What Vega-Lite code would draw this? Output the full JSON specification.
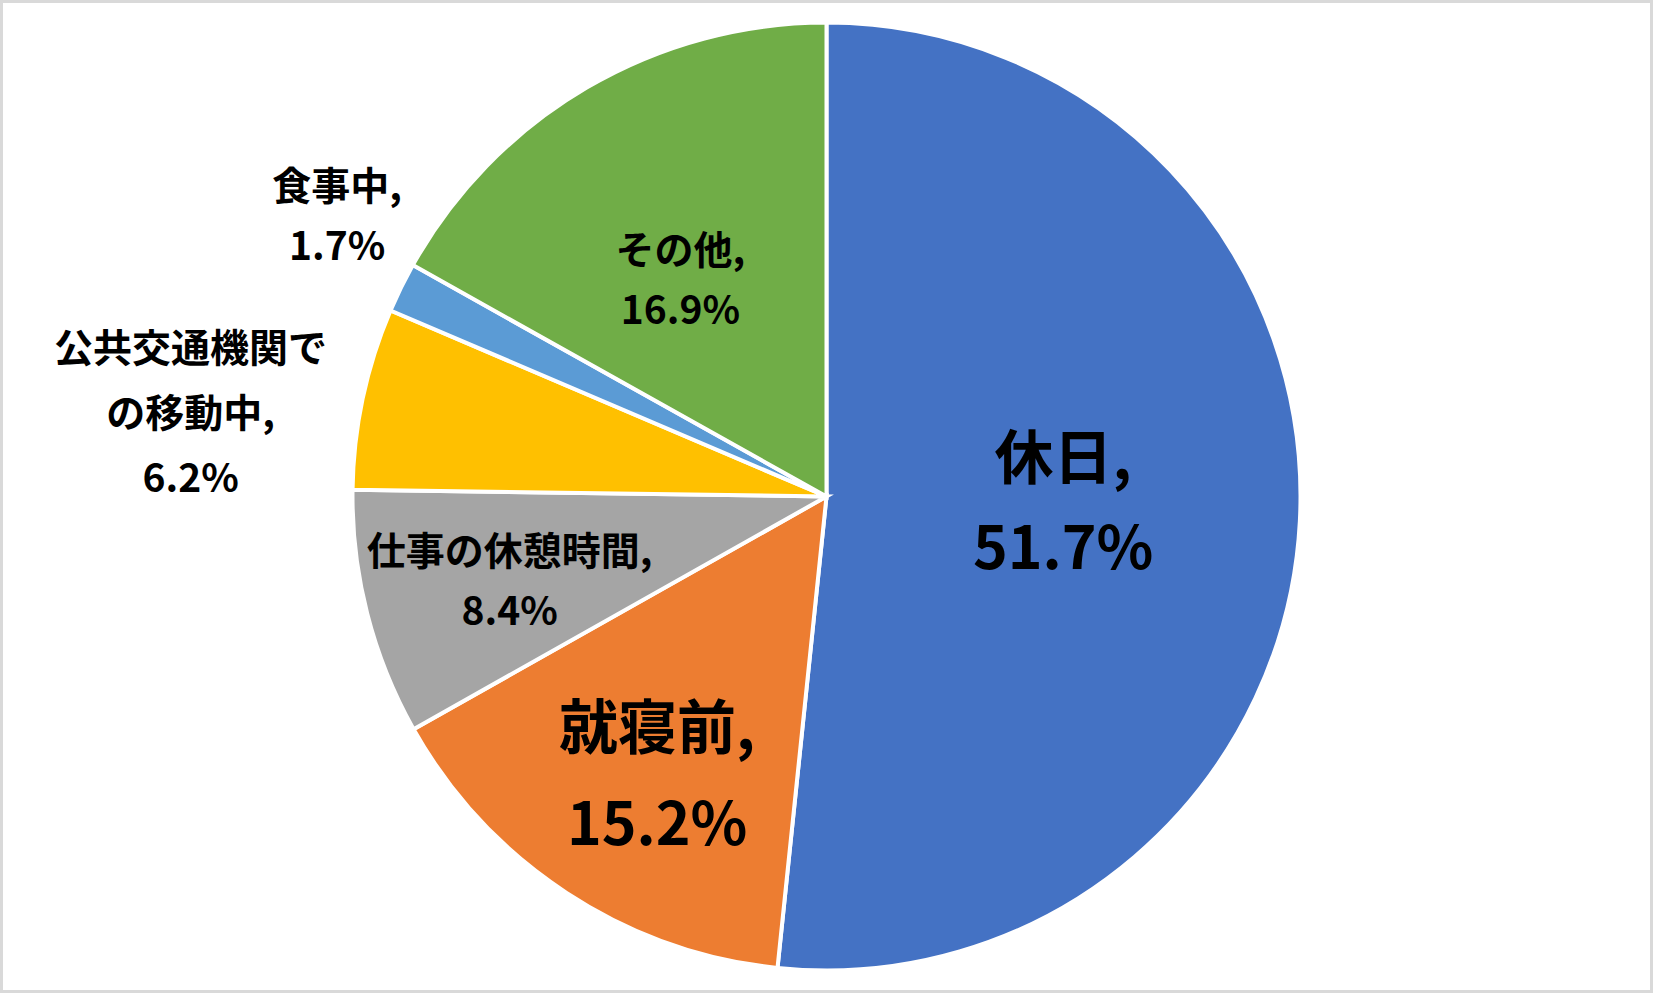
{
  "$schema": "https://vega.github.io/schema/vega-lite/v6.json",
  "width": 1653,
  "height": 993,
  "autosize": {"type": "none"},
  "padding": 0,
  "background": "white",
  "view": {"stroke": "#D9D9D9", "strokeWidth": 6, "fill": "white"},
  "data": {
    "values": [
      {"category": "休日", "value": 51.7},
      {"category": "就寝前", "value": 15.2},
      {"category": "仕事の休憩時間", "value": 8.4},
      {"category": "公共交通機関での移動中", "value": 6.2},
      {"category": "食事中", "value": 1.7},
      {"category": "その他", "value": 16.9}
    ]
  },
  "transform": [
    {"window": [{"op": "row_number", "as": "idx"}]},
    {"calculate": "replace(datum.category, '機関で', '機関で\\n') + ',\\n' + format(datum.value, '.1f') + '%'", "as": "label"}
  ],
  "layer": [
    {
      "mark": {"type": "arc", "outerRadius": 474, "stroke": "white", "strokeWidth": 4},
      "encoding": {
        "theta": {"field": "value", "type": "quantitative", "stack": true},
        "order": {"field": "idx", "type": "quantitative"},
        "color": {
          "field": "category",
          "type": "nominal",
          "legend": null,
          "scale": {
            "domain": ["休日", "就寝前", "仕事の休憩時間", "公共交通機関での移動中", "食事中", "その他"],
            "range": ["#4472C4", "#ED7D31", "#A5A5A5", "#FFC000", "#5B9BD5", "#70AD47"]
          }
        }
      }
    },
    {
      "mark": {"type": "text", "radius": 237, "dy": -48, "font": "Noto Sans CJK JP", "fontSize": 59, "fontWeight": "bold", "lineBreak": "\n", "lineHeight": 90, "align": "center", "baseline": "middle", "color": "black"},
      "encoding": {
        "theta": {"field": "value", "type": "quantitative", "stack": true},
        "order": {"field": "idx", "type": "quantitative"},
        "text": {"condition": {"test": "datum.category === '休日'", "field": "label"}, "value": ""}
      }
    },
    {
      "mark": {"type": "text", "radius": 327, "dx": 10, "dy": -39, "font": "Noto Sans CJK JP", "fontSize": 59, "fontWeight": "bold", "lineBreak": "\n", "lineHeight": 96, "align": "center", "baseline": "middle", "color": "black"},
      "encoding": {
        "theta": {"field": "value", "type": "quantitative", "stack": true},
        "order": {"field": "idx", "type": "quantitative"},
        "text": {"condition": {"test": "datum.category === '就寝前'", "field": "label"}, "value": ""}
      }
    },
    {
      "mark": {"type": "text", "radius": 327, "dy": -24, "font": "Noto Sans CJK JP", "fontSize": 39, "fontWeight": "bold", "lineBreak": "\n", "lineHeight": 60, "align": "center", "baseline": "middle", "color": "black"},
      "encoding": {
        "theta": {"field": "value", "type": "quantitative", "stack": true},
        "order": {"field": "idx", "type": "quantitative"},
        "text": {"condition": {"test": "datum.category === '仕事の休憩時間'", "field": "label"}, "value": ""}
      }
    },
    {
      "mark": {"type": "text", "radius": 261, "dx": -14, "dy": -19, "font": "Noto Sans CJK JP", "fontSize": 39, "fontWeight": "bold", "lineBreak": "\n", "lineHeight": 60, "align": "center", "baseline": "middle", "color": "black"},
      "encoding": {
        "theta": {"field": "value", "type": "quantitative", "stack": true},
        "order": {"field": "idx", "type": "quantitative"},
        "text": {"condition": {"test": "datum.category === 'その他'", "field": "label"}, "value": ""}
      }
    },
    {
      "mark": {"type": "text", "radius": 650, "dy": -12, "font": "Noto Sans CJK JP", "fontSize": 39, "fontWeight": "bold", "lineBreak": "\n", "lineHeight": 65, "align": "center", "baseline": "middle", "color": "black"},
      "encoding": {
        "theta": {"field": "value", "type": "quantitative", "stack": true},
        "order": {"field": "idx", "type": "quantitative"},
        "text": {"condition": {"test": "datum.category === '公共交通機関での移動中'", "field": "label"}, "value": ""}
      }
    },
    {
      "mark": {"type": "text", "radius": 562, "dx": 15, "dy": -61, "font": "Noto Sans CJK JP", "fontSize": 39, "fontWeight": "bold", "lineBreak": "\n", "lineHeight": 60, "align": "center", "baseline": "middle", "color": "black"},
      "encoding": {
        "theta": {"field": "value", "type": "quantitative", "stack": true},
        "order": {"field": "idx", "type": "quantitative"},
        "text": {"condition": {"test": "datum.category === '食事中'", "field": "label"}, "value": ""}
      }
    }
  ]
}
